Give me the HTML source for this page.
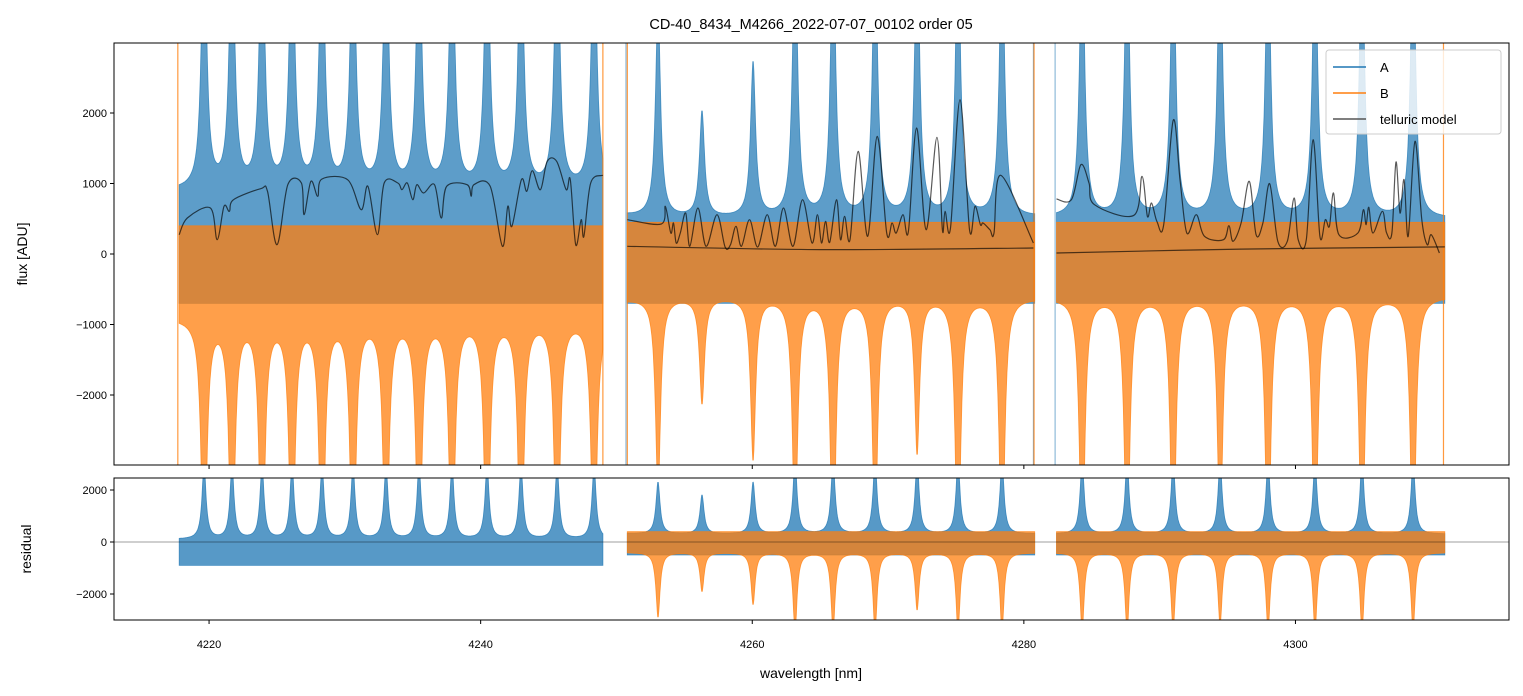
<!DOCTYPE html>
<html><head><meta charset="utf-8">
<style>
html,body{margin:0;padding:0;background:#fff;}
svg{display:block;font-family:"Liberation Sans","DejaVu Sans",sans-serif;}
</style></head>
<body>
<svg id="chart" width="1523" height="696" viewBox="0 0 1523 696" xmlns="http://www.w3.org/2000/svg">
<defs>
<clipPath id="clipTop"><rect x="114" y="43" width="1395" height="422"/></clipPath>
<clipPath id="clipBot"><rect x="114" y="478" width="1395" height="142"/></clipPath>
</defs>
<text x="811" y="29" font-size="14.5" text-anchor="middle" fill="#000">CD-40_8434_M4266_2022-07-07_00102  order 05</text>
<g id="topData" clip-path="url(#clipTop)"></g>
<g id="botData" clip-path="url(#clipBot)"></g>
<rect x="114" y="43" width="1395" height="422" fill="none" stroke="#000" stroke-width="1"/>
<rect x="114" y="478" width="1395" height="142" fill="none" stroke="#000" stroke-width="1"/>
<g id="axes"></g>
<text transform="translate(27,254) rotate(-90)" font-size="14" text-anchor="middle">flux [ADU]</text>
<text transform="translate(31,549) rotate(-90)" font-size="14" text-anchor="middle">residual</text>
<text x="811" y="678" font-size="14" text-anchor="middle">wavelength [nm]</text>
<g>
<rect x="1326" y="50" width="175" height="84" rx="3" fill="#fff" fill-opacity="0.8" stroke="#ccc"/>
<g><line x1="1333" y1="67" x2="1366" y2="67" stroke="#1f77b4" stroke-width="1.5"/><text x="1380" y="72" font-size="13">A</text></g>
<g><line x1="1333" y1="93" x2="1366" y2="93" stroke="#ff7f0e" stroke-width="1.5"/><text x="1380" y="98" font-size="13">B</text></g>
<g><line x1="1333" y1="119" x2="1366" y2="119" stroke="#555" stroke-width="1.5"/><text x="1380" y="124" font-size="13">telluric model</text></g>
</g>
</svg>
<script>
// ---- data ----
const segStart = [4217.8, 4250.8, 4282.4];
const segEnd = [4249.0, 4280.8, 4311.0];
const aHi = [900, 500, 500];
const aLo = [-700, -700, -700];
const bHi = [400, 450, 450];
const bLo = [-900, -600, -600];
const lineCenters = [4219.63,4221.69,4223.90,4226.11,4228.32,4230.60,4233.03,4235.46,4237.89,4240.47,4242.97,4245.63,4248.35,
  4253.06,4256.30,4260.06,4263.15,4265.95,4269.04,4272.14,4275.15,4278.39,
  4284.29,4287.60,4290.99,4294.45,4297.98,4301.44,4304.90,4308.66];
const aAmp = [4000,4000,4000,4000,4000,4000,4000,4000,4000,4000,4000,4000,4000,
  3000,1500,2200,4000,4000,4000,4000,4000,4000,
  4000,4000,4000,4000,4000,4000,4000,4000];
const bAmp = [-4000,-4000,-4000,-4000,-4000,-4000,-4000,-4000,-4000,-4000,-4000,-4000,-4000,
  -2800,-1500,-2300,-3500,-4000,-3500,-2200,-4000,-4000,
  -4000,-4000,-4000,-3500,-4000,-4000,-4000,-4000];
const resAHi = [100, 300, 300];
const resALo = [-900, -500, -500];
const resBHi = [null, 400, 400];
const resBLo = [null, -400, -400];
const resAAmp = [2800,2800,2800,2800,2800,2800,2800,2800,2800,2800,2800,2800,2800,
  2000,1500,2000,2800,2800,2800,2800,2800,2800,
  2800,2800,2800,2800,2800,2800,2800,2800];
const resBAmp = [0,0,0,0,0,0,0,0,0,0,0,0,0,
  -2500,-1500,-2000,-3000,-3000,-3000,-2200,-3000,-3000,
  -3000,-3000,-3000,-2800,-3000,-3000,-3000,-3000];
const edgeB = [4217.7, 4249.0, 4250.8, 4280.75, 4310.9];
const edgeA = [4250.7, 4280.7, 4282.3];
const tellW1 = [4217.8,4218.4,4220.1,4220.6,4221.1,4221.5,4221.8,4223.8,4224.3,4225.0,4225.8,4226.8,4227.0,4227.5,4228.0,4228.3,4230.2,4231.2,4231.7,4232.4,4232.9,4233.9,4234.2,4234.6,4235.0,4235.3,4235.8,4236.6,4237.1,4237.5,4239.0,4239.3,4239.5,4240.7,4241.6,4242.0,4242.3,4243.0,4243.4,4243.8,4244.4,4244.9,4245.6,4246.3,4246.6,4247.0,4247.4,4247.6,4248.1,4249.0];
const tellV1 = [274,510,652,203,676,605,770,926,889,132,983,1007,557,1031,818,1063,1054,628,960,274,1007,1007,912,1007,770,983,865,983,510,960,983,818,983,960,109,676,393,1054,889,1181,912,1314,1314,912,1054,132,486,251,1007,1116];
const tellW2 = [4250.8,4253.3,4253.6,4254.0,4254.2,4254.4,4254.7,4255.1,4255.4,4256.0,4256.6,4257.4,4258.0,4258.4,4258.8,4259.2,4259.8,4260.4,4261.1,4261.7,4262.3,4263.0,4263.7,4264.4,4264.8,4265.1,4265.4,4265.7,4266.2,4266.5,4266.8,4267.2,4267.8,4268.5,4269.2,4269.9,4270.3,4270.6,4271.1,4271.5,4272.1,4272.8,4273.6,4274.0,4274.2,4274.6,4275.3,4276.0,4276.4,4276.8,4277.0,4277.5,4277.8,4278.3,4280.7];
const tellV2 = [487,425,676,298,440,156,298,581,109,652,109,557,99,132,393,109,487,99,557,109,652,109,770,156,557,156,463,166,770,203,534,203,1456,251,1669,298,440,298,557,321,1787,345,1654,345,605,369,2188,345,676,416,440,345,298,1116,156];
const tellW3 = [4282.4,4283.5,4284.2,4284.8,4285.2,4288.1,4288.7,4289.1,4289.4,4289.8,4290.3,4291.0,4291.5,4292.0,4292.7,4293.3,4294.7,4295.1,4295.4,4296.0,4296.6,4297.1,4297.6,4298.1,4298.7,4299.4,4299.9,4300.2,4300.8,4301.3,4301.8,4302.2,4302.5,4302.8,4303.2,4304.6,4305.0,4305.2,4305.4,4305.7,4306.4,4306.7,4307.1,4307.4,4307.7,4308.0,4308.3,4308.8,4309.3,4309.7,4310.0,4310.6];
const tellV3 = [780,770,1266,1007,699,549,1102,534,723,463,416,1896,1054,298,557,251,203,402,180,440,1031,274,440,997,180,180,794,203,203,1621,251,486,393,865,274,298,628,416,662,298,605,307,298,1305,581,1054,251,1598,486,132,274,14];
const contW2 = [4250.8, 4265.0, 4280.7];
const contV2 = [109, 62, 85];
const contW3 = [4282.4, 4296.0, 4311.0];
const contV3 = [14, 70, 100];
const xTicks = [4220, 4240, 4260, 4280, 4300];
const yTicksTop = [2000, 1000, 0, -1000, -2000];
const yTicksBot = [2000, 0, -2000];

// ---- scales ----
const X0 = 4213.0, PX = 13.58;
function sx(w){ return 114 + (w - X0) * PX; }
function syTop(v){ return 254 - v * 0.0705; }
function syBot(v){ return 542 - v * 0.026; }
const NS = 'http://www.w3.org/2000/svg';
const topG = document.getElementById('topData');
const botG = document.getElementById('botData');
const axG = document.getElementById('axes');
function mk(tag, attrs, parent){ const e = document.createElementNS(NS, tag); for (const k in attrs) e.setAttribute(k, attrs[k]); parent.appendChild(e); return e; }
function prof(d, w){ return 1 / (1 + (d / w) * (d / w)); }

function band(parent, s, hi, lo, amps, width, sy, color, name, op){
  const up = [], dn = [];
  for (let w = segStart[s]; w <= segEnd[s] + 1e-9; w += 0.04) {
    let u = hi, l = lo;
    for (let i = 0; i < lineCenters.length; i++) {
      const a = amps[i]; if (!a) continue;
      const p = a * prof(w - lineCenters[i], width);
      if (a > 0) u += p; else l += p;
    }
    up.push(sx(w).toFixed(1) + ',' + Math.max(-50, Math.min(800, sy(u))).toFixed(1));
    dn.push(sx(w).toFixed(1) + ',' + Math.max(-50, Math.min(800, sy(l))).toFixed(1));
  }
  const el = mk('polygon', {points: up.concat(dn.reverse()).join(' '), fill: color, 'fill-opacity': op, stroke: color, 'stroke-opacity': op, 'stroke-width': 0.8}, parent);
  
  
}
function curve(parent, ws, vs, sy, name, color, op, sw){
  const P = ws.map((w, i) => [sx(w), sy(vs[i])]);
  let d = 'M' + P[0][0].toFixed(1) + ',' + P[0][1].toFixed(1);
  for (let i = 0; i < P.length - 1; i++) {
    const p0 = P[Math.max(0, i - 1)], p1 = P[i], p2 = P[i + 1], p3 = P[Math.min(P.length - 1, i + 2)];
    const c1 = [p1[0] + (p2[0] - p0[0]) / 6, p1[1] + (p2[1] - p0[1]) / 6];
    const c2 = [p2[0] - (p3[0] - p1[0]) / 6, p2[1] - (p3[1] - p1[1]) / 6];
    d += ' C' + c1[0].toFixed(1) + ',' + c1[1].toFixed(1) + ' ' + c2[0].toFixed(1) + ',' + c2[1].toFixed(1) + ' ' + p2[0].toFixed(1) + ',' + p2[1].toFixed(1);
  }
  const el = mk('path', {d: d, fill: 'none', stroke: color, 'stroke-opacity': op, 'stroke-width': sw, 'stroke-linejoin': 'round'}, parent);
  
  
}

// top panel
for (let s = 0; s < 3; s++) band(topG, s, aHi[s], aLo[s], aAmp, 0.22, syTop, '#1f77b4', 'series-a-seg' + (s + 1), 0.72);
edgeA.forEach(w => { const e = mk('line', {x1: sx(w), x2: sx(w), y1: 43, y2: 465, stroke: '#1f77b4', 'stroke-opacity': 0.6, 'stroke-width': 1}, topG);
  
   });
for (let s = 0; s < 3; s++) band(topG, s, bHi[s], bLo[s], bAmp, 0.22, syTop, '#ff7f0e', 'series-b-seg' + (s + 1), 0.75);
edgeB.forEach(w => { const e = mk('line', {x1: sx(w), x2: sx(w), y1: 43, y2: 465, stroke: '#ff7f0e', 'stroke-opacity': 0.8, 'stroke-width': 1.2}, topG);
  
   });
curve(topG, tellW1, tellV1, syTop, 'telluric-model-seg1', '#000', 0.65, 1.2);
curve(topG, tellW2, tellV2, syTop, 'telluric-model-seg2', '#000', 0.65, 1.2);
curve(topG, tellW3, tellV3, syTop, 'telluric-model-seg3', '#000', 0.65, 1.2);
curve(topG, contW2, contV2, syTop, 'telluric-continuum-seg2', '#000', 0.65, 1.2);
curve(topG, contW3, contV3, syTop, 'telluric-continuum-seg3', '#000', 0.65, 1.2);

// residual panel
for (let s = 0; s < 3; s++) band(botG, s, resAHi[s], resALo[s], resAAmp, 0.18, syBot, '#1f77b4', 'residual-a-seg' + (s + 1), 0.75);
for (let s = 1; s < 3; s++) band(botG, s, resBHi[s], resBLo[s], resBAmp, 0.18, syBot, '#ff7f0e', 'residual-b-seg' + (s + 1), 0.75);
{ const z = mk('line', {x1: 114, x2: 1509, y1: syBot(0), y2: syBot(0), stroke: '#000', 'stroke-opacity': 0.5, 'stroke-width': 0.8}, botG);
  
   }

// axes ticks
xTicks.forEach(t => {
  const x = sx(t);
  mk('line', {x1: x, x2: x, y1: 465, y2: 469, stroke: '#000'}, axG);
  mk('line', {x1: x, x2: x, y1: 620, y2: 624, stroke: '#000'}, axG);
  const tx = mk('text', {x: x, y: 648, 'font-size': 11, 'text-anchor': 'middle'}, axG);
  tx.textContent = t;
  
  
});
function fmt(v){ return v < 0 ? '\u2212' + Math.abs(v) : String(v); }
yTicksTop.forEach(t => {
  const y = syTop(t);
  mk('line', {x1: 110, x2: 114, y1: y, y2: y, stroke: '#000'}, axG);
  const tx = mk('text', {x: 107, y: y + 4, 'font-size': 11, 'text-anchor': 'end'}, axG);
  tx.textContent = fmt(t);
  
  
});
yTicksBot.forEach(t => {
  const y = syBot(t);
  mk('line', {x1: 110, x2: 114, y1: y, y2: y, stroke: '#000'}, axG);
  const tx = mk('text', {x: 107, y: y + 4, 'font-size': 11, 'text-anchor': 'end'}, axG);
  tx.textContent = fmt(t);
  
  
});
</script>
</body></html>
